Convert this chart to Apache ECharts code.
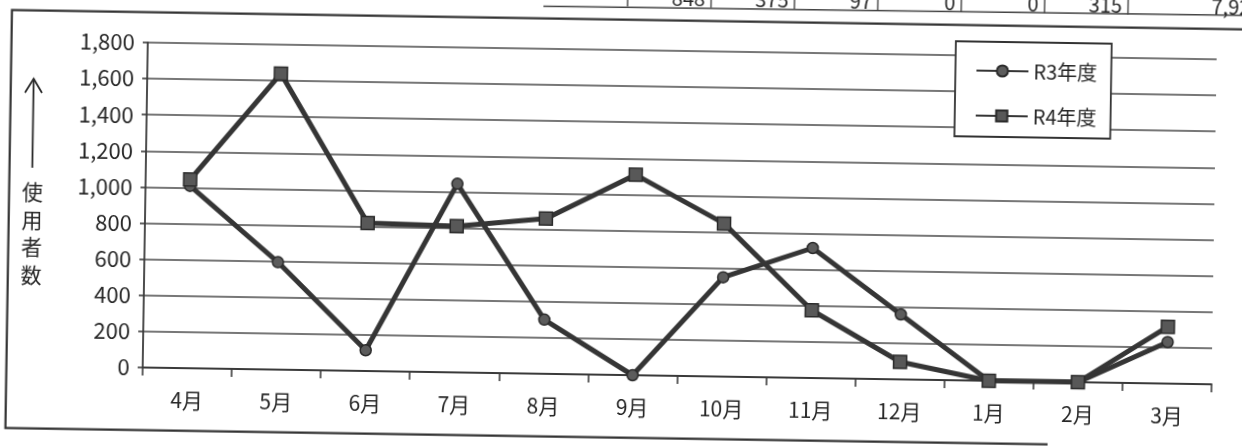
<!DOCTYPE html>
<html>
<head>
<meta charset="utf-8">
<script src="https://cdn.jsdelivr.net/npm/echarts@6/dist/echarts.min.js"></script>
<style>
  html, body { margin: 0; padding: 0; background: #ffffff; overflow: hidden; width: 1242px; height: 446px; }
  #chart { position: absolute; left: -40px; top: -40px; width: 1322px; height: 526px;
           transform-origin: 661px 263px; transform: rotate(0.9deg); background: #ffffff; }
</style>
</head>
<body>
<div id="chart"></div>
<script>
// ---- data ----
const months = ['4月', '5月', '6月', '7月', '8月', '9月', '10月', '11月', '12月', '1月', '2月', '3月'];
const seriesNames = ['R3年度', 'R4年度'];
const r3 = [1010, 595, 115, 1045, 300, 0, 550, 720, 360, 0, 0, 230];
const r4 = [1045, 1640, 820, 810, 860, 1110, 848, 375, 97, 0, 0, 315];
const yMin = 0, yMax = 1800, yStep = 200;
const yAxisTitle = '使用者数';

// ---- styling constants ----
const OX = 40, OY = 40;               // offset of enlarged canvas
const FONT = '"Noto Sans CJK JP", "Noto Sans", sans-serif';
const INK = '#262626';
const LINE = '#353535';

const chart = echarts.init(document.getElementById('chart'), null, { renderer: 'canvas' });

// partial table row visible at the top edge (R4 values + total)
const fmt = v => v.toLocaleString('en-US');
const total = r4.reduce((a, b) => a + b, 0);
const cellW = 83.4, lastRight = 1124.6;
const TY = 6.5;
const tableEls = [];
tableEls.push({ type: 'line', silent: true,
  shape: { x1: 540 + OX, y1: TY + 1 + OY, x2: 1322, y2: TY - 1 + OY },
  style: { stroke: '#444', lineWidth: 1.6 } });
for (let i = 6; i < 12; i++) {
  const right = lastRight - (11 - i) * cellW;
  tableEls.push({ type: 'text', silent: true,
    style: { text: fmt(r4[i]), x: right - 6 + OX, y: TY + 1 + OY, align: 'right', verticalAlign: 'bottom',
             font: '20px ' + FONT, fill: INK } });
}
for (let i = 5; i < 12; i++) {
  const right = lastRight - (11 - i) * cellW;
  tableEls.push({ type: 'line', silent: true,
    shape: { x1: right + OX, y1: -20 + OY, x2: right + OX, y2: TY + OY },
    style: { stroke: '#444', lineWidth: 1.4 } });
}
tableEls.push({ type: 'text', silent: true,
  style: { text: fmt(total), x: 1258 + OX, y: TY + 1 + OY, align: 'right', verticalAlign: 'bottom',
           font: '20px ' + FONT, fill: INK } });

const option = {
  backgroundColor: '#ffffff',
  animation: false,
  textStyle: { fontFamily: FONT },
  grid: { left: 145 + OX, top: 50 + OY, right: 1322 - (1214 + OX), bottom: 526 - (375 + OY), containLabel: false },
  legend: {
    data: seriesNames,
    orient: 'vertical',
    left: 953 + OX, top: 36 + OY,
    backgroundColor: '#ffffff',
    borderColor: '#333333', borderWidth: 1.8, borderRadius: 0,
    padding: [18, 14, 10, 20],
    itemWidth: 52, itemHeight: 14, itemGap: 23,
    textStyle: { fontSize: 20, color: INK, fontFamily: FONT, lineHeight: 22 }
  },
  xAxis: {
    type: 'category',
    data: months,
    boundaryGap: true,
    axisLine: { show: true, lineStyle: { color: '#3a3a3a', width: 1.8 } },
    axisTick: { show: true, length: 8, inside: false, alignWithLabel: false, lineStyle: { color: '#3a3a3a', width: 1.6 } },
    axisLabel: { fontSize: 21, color: INK, margin: 22, fontFamily: FONT },
    splitLine: { show: false }
  },
  yAxis: {
    type: 'value',
    min: yMin, max: yMax, interval: yStep,
    axisLine: { show: true, lineStyle: { color: '#3a3a3a', width: 1.8 } },
    axisTick: { show: true, length: 5, lineStyle: { color: '#3a3a3a', width: 1.6 } },
    axisLabel: { fontSize: 22, color: INK, margin: 13, fontFamily: FONT,
                 formatter: v => fmt(v) },
    splitLine: { show: true, lineStyle: { color: '#4a4a4a', width: 1.7 } }
  },
  series: [
    { name: seriesNames[0], type: 'line', data: r3,
      symbol: 'circle', symbolSize: 11, z: 3,
      lineStyle: { color: LINE, width: 5 },
      itemStyle: { color: '#5c5c5c', borderColor: '#2a2a2a', borderWidth: 1.5 } },
    { name: seriesNames[1], type: 'line', data: r4,
      symbol: 'rect', symbolSize: 13, z: 4,
      lineStyle: { color: LINE, width: 5 },
      itemStyle: { color: '#585858', borderColor: '#2a2a2a', borderWidth: 1.5 } }
  ],
  graphic: [
    // outer chart frame (top, left, bottom)
    { type: 'polyline', silent: true,
      shape: { points: [[1322, 19.6 + OY], [8.7 + OX, 19.6 + OY], [8.7 + OX, 437.7 + OY], [1051 + OX, 437.7 + OY]] },
      style: { stroke: '#333333', lineWidth: 2.2, fill: null } },
    // axis title arrow
    { type: 'line', silent: true,
      shape: { x1: 31.5 + OX, y1: 88 + OY, x2: 31.5 + OX, y2: 177 + OY },
      style: { stroke: '#2a2a2a', lineWidth: 1.8 } },
    { type: 'polyline', silent: true,
      shape: { points: [[23 + OX, 102 + OY], [31.5 + OX, 88 + OY], [40 + OX, 102 + OY]] },
      style: { stroke: '#2a2a2a', lineWidth: 1.8, fill: null } },
    // vertical axis title
    { type: 'text', silent: true,
      style: { text: yAxisTitle.split('').join('\n'), x: 32 + OX, y: 242.5 + OY,
               align: 'center', verticalAlign: 'middle', lineHeight: 27.7,
               font: '21px ' + FONT, fill: INK } }
  ].concat(tableEls)
};
chart.setOption(option);
</script>
</body>
</html>
